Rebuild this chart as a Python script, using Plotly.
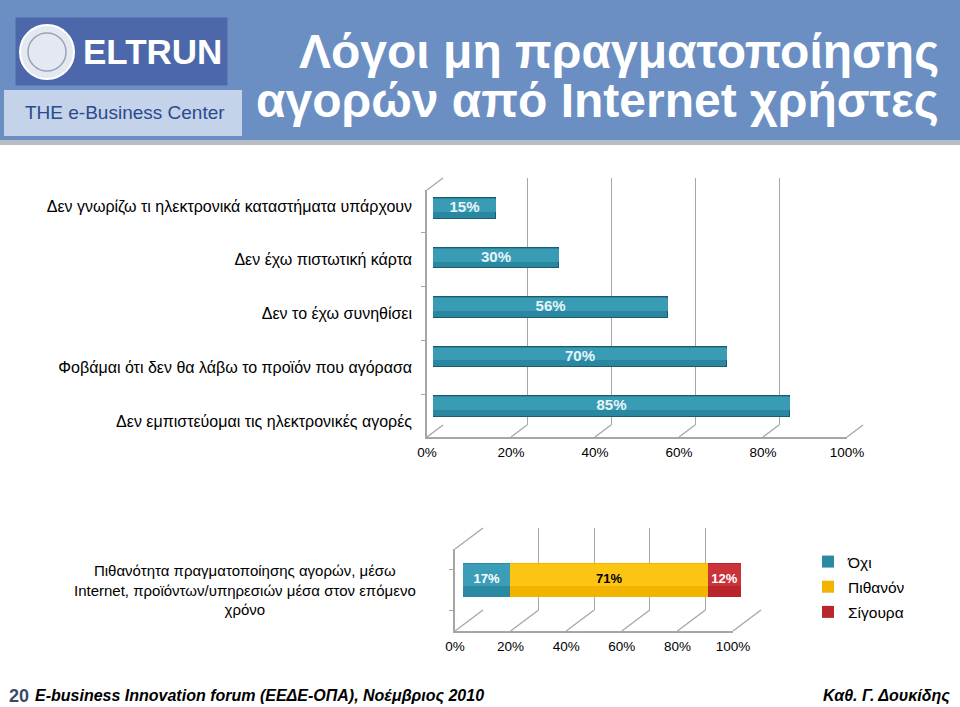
import plotly.graph_objects as go

# ---------------- data ----------------
reasons = [
    "Δεν γνωρίζω τι ηλεκτρονικά καταστήματα υπάρχουν",
    "Δεν έχω πιστωτική κάρτα",
    "Δεν το έχω συνηθίσει",
    "Φοβάμαι ότι δεν θα λάβω το προϊόν που αγόρασα",
    "Δεν εμπιστεύομαι τις ηλεκτρονικές αγορές",
]
reason_values = [15, 30, 56, 70, 85]

likelihood_category = ["Πιθανότητα πραγματοποίησης αγορών, μέσω<br>Internet, προϊόντων/υπηρεσιών μέσα στον επόμενο<br>χρόνο"]
likelihood_series = ["Όχι", "Πιθανόν", "Σίγουρα"]
likelihood_values = [17, 71, 12]
likelihood_colors = ["#2b8aa3", "#f3b400", "#b8252b"]
likelihood_light = ["#3c9db7", "#fcc514", "#cb333a"]
likelihood_text_colors = ["white", "black", "white"]

tick_vals = [0, 20, 40, 60, 80, 100]
tick_text = ["0%", "20%", "40%", "60%", "80%", "100%"]

title_lines = ["Λόγοι μη πραγματοποίησης", "αγορών από Internet χρήστες"]
footer_left = "E-business Innovation forum (ΕΕΔΕ-ΟΠΑ), Νοέμβριος 2010"
footer_right = "Καθ. Γ. Δουκίδης"
page_number = "20"

# ---------------- helpers ----------------
W, H = 960, 707
def px(x):
    return x / W
def py(y):
    return 1 - y / H
def xdom(a, b):
    return [px(a), px(b)]
def ydom(top, bottom):
    return [py(bottom), py(top)]

FONT = "Liberation Sans, Arial, sans-serif"
AXC = "#a6a6a6"
BAR_W = 0.42

fig = go.Figure()
def invisible(x, y, xa, ya):
    return go.Scatter(x=x, y=y, mode="markers", marker=dict(opacity=0), showlegend=False,
                      hoverinfo="skip", xaxis=xa, yaxis=ya)

# ================= top chart =================
fig.add_trace(invisible([0, 100], [0, 1], "x", "y"))                     # back wall grid
fig.add_trace(invisible([None] * len(reasons), reasons, "x2", "y2"))    # front labels
fig.add_trace(go.Bar(                                                     # cylinder body
    x=reason_values, y=reasons, orientation="h", width=BAR_W,
    marker=dict(color="#2a87a0", line=dict(color="#1c5b6c", width=1.2)),
    showlegend=False, hoverinfo="skip", xaxis="x3", yaxis="y3"))
fig.add_trace(go.Bar(                                                     # highlight
    x=reason_values, y=reasons, orientation="h", width=0.26, offset=-0.07,
    marker=dict(color="#3a9bb5", line=dict(width=0)),
    showlegend=False, hoverinfo="skip", xaxis="x4", yaxis="y4"))
fig.add_trace(go.Scatter(                                                 # value labels
    x=[v / 2 for v in reason_values], y=reasons, mode="text",
    text=[f"<b>{v}%</b>" for v in reason_values],
    textfont=dict(family=FONT, size=15, color="#e6f5f9"),
    showlegend=False, hoverinfo="skip", xaxis="x5", yaxis="y5"))

# ================= bottom chart =================
fig.add_trace(invisible([0, 100], [0, 1], "x6", "y6"))
fig.add_trace(invisible([None], likelihood_category, "x7", "y7"))
for name, val, col in zip(likelihood_series, likelihood_values, likelihood_colors):
    fig.add_trace(go.Bar(
        x=[val], y=likelihood_category, orientation="h", width=BAR_W, name=name, legendgroup=name,
        marker=dict(color=col, line=dict(width=0)), hoverinfo="skip", xaxis="x8", yaxis="y8"))
for name, val, col in zip(likelihood_series, likelihood_values, likelihood_light):
    fig.add_trace(go.Bar(
        x=[val], y=likelihood_category, orientation="h", width=0.26, offset=-0.07, name=name,
        legendgroup=name, showlegend=False,
        marker=dict(color=col, line=dict(width=0)), hoverinfo="skip", xaxis="x9", yaxis="y9"))
cum = 0
label_x = []
for val in likelihood_values:
    label_x.append(cum + val / 2)
    cum += val
fig.add_trace(go.Scatter(
    x=label_x, y=likelihood_category * len(likelihood_values), mode="text",
    text=[f"<b>{v}%</b>" for v in likelihood_values],
    textfont=dict(family=FONT, size=13, color=likelihood_text_colors),
    showlegend=False, hoverinfo="skip", xaxis="x10", yaxis="y10"))

rev_reasons = list(reversed(reasons))

def hidden_x(a, b, anchor):
    return dict(domain=xdom(a, b), range=[0, 100], visible=False, anchor=anchor,
                automargin=False, fixedrange=True)
def hidden_ycat(top, bottom, anchor, cats):
    return dict(domain=ydom(top, bottom), type="category", categoryorder="array", categoryarray=cats,
                range=[-0.5, len(cats) - 0.5], visible=False, anchor=anchor,
                automargin=False, fixedrange=True)

layout = dict(
    width=W, height=H, autosize=False,
    margin=dict(l=0, r=0, t=0, b=0, pad=0, autoexpand=False),
    paper_bgcolor="white", plot_bgcolor="rgba(0,0,0,0)",
    barmode="stack", bargap=0,
    font=dict(family=FONT, size=13, color="black"),
    # top grid
    xaxis=dict(domain=xdom(443, 863), range=[0, 100], tickvals=tick_vals, showticklabels=False,
               showgrid=True, gridcolor=AXC, gridwidth=1.3, zeroline=False, showline=False,
               automargin=False, fixedrange=True),
    yaxis=dict(domain=ydom(178, 425), range=[0, 1], visible=False, automargin=False, fixedrange=True),
    # top labels
    xaxis2=dict(domain=xdom(427, 847), range=[0, 100], tickvals=tick_vals, ticktext=tick_text,
                showgrid=False, zeroline=False, showline=True, linecolor=AXC, linewidth=1.5,
                ticks="", ticklabelstandoff=2, tickfont=dict(size=13.5), anchor="y2",
                automargin=False, fixedrange=True),
    yaxis2=dict(domain=ydom(190, 437), type="category", categoryorder="array", categoryarray=rev_reasons,
                showline=True, linecolor=AXC, linewidth=1.5, ticks="outside", tickson="boundaries",
                ticklen=4, tickcolor=AXC, showgrid=False, ticklabelstandoff=10,
                tickfont=dict(size=16), anchor="x2", automargin=False, fixedrange=True),
    xaxis3=hidden_x(433, 853, "y3"), yaxis3=hidden_ycat(184, 431, "x3", rev_reasons),
    xaxis4=hidden_x(433, 853, "y4"), yaxis4=hidden_ycat(184, 431, "x4", rev_reasons),
    xaxis5=hidden_x(433, 853, "y5"), yaxis5=hidden_ycat(184, 431, "x5", rev_reasons),
    # bottom grid
    xaxis6=dict(domain=xdom(483, 761), range=[0, 100], tickvals=tick_vals, showticklabels=False,
                showgrid=True, gridcolor=AXC, gridwidth=1.3, zeroline=False, showline=False,
                anchor="y6", automargin=False, fixedrange=True),
    yaxis6=dict(domain=ydom(528, 610), range=[0, 1], visible=False, anchor="x6",
                automargin=False, fixedrange=True),
    # bottom labels
    xaxis7=dict(domain=xdom(455, 733), range=[0, 100], tickvals=tick_vals, ticktext=tick_text,
                showgrid=False, zeroline=False, showline=True, linecolor=AXC, linewidth=1.5,
                ticks="", ticklabelstandoff=2, tickfont=dict(size=13.5), anchor="y7",
                automargin=False, fixedrange=True),
    yaxis7=dict(domain=ydom(549, 631), type="category", showline=True, linecolor=AXC, linewidth=1.5,
                ticks="outside", tickson="boundaries", ticklen=4, tickcolor=AXC, showgrid=False,
                showticklabels=False, anchor="x7", automargin=False, fixedrange=True),
    xaxis8=hidden_x(463, 741, "y8"), yaxis8=hidden_ycat(539, 621, "x8", likelihood_category),
    xaxis9=hidden_x(463, 741, "y9"), yaxis9=hidden_ycat(539, 621, "x9", likelihood_category),
    xaxis10=hidden_x(463, 741, "y10"), yaxis10=hidden_ycat(539, 621, "x10", likelihood_category),
    legend=dict(x=px(808), y=py(545), xanchor="left", yanchor="top", bgcolor="rgba(0,0,0,0)",
                font=dict(family=FONT, size=15.5, color="black"), traceorder="grouped",
                itemwidth=30, tracegroupgap=2),
)

shapes = []
# header band
shapes.append(dict(type="rect", xref="paper", yref="paper", x0=0, x1=1, y0=py(140), y1=1,
                   fillcolor="#6b8fc3", line=dict(width=0), layer="below"))
shapes.append(dict(type="rect", xref="paper", yref="paper", x0=0, x1=1, y0=py(145), y1=py(140),
                   fillcolor="#b9bec6", line=dict(width=0), layer="below"))
# logo glow + box
shapes.append(dict(type="rect", xref="paper", yref="paper", x0=px(4), x1=px(242), y0=py(136), y1=py(90),
                   fillcolor="#c4d3ea", line=dict(width=0), layer="below"))
shapes.append(dict(type="rect", xref="paper", yref="paper", x0=px(15), x1=px(228), y0=py(86), y1=py(17),
                   fillcolor="#4c68aa", line=dict(color="#6f8cc8", width=1), layer="below"))
shapes.append(dict(type="circle", xref="paper", yref="paper", x0=px(20), x1=px(74), y0=py(79), y1=py(25),
                   fillcolor="#e4e8f1", line=dict(color="white", width=2), layer="below"))
shapes.append(dict(type="circle", xref="paper", yref="paper", x0=px(28), x1=px(66), y0=py(71), y1=py(33),
                   fillcolor="rgba(0,0,0,0)", line=dict(color="#9aa3b6", width=1.5), layer="below"))

# 3D depth diagonals
def diag(x0, y0, x1, y1):
    return dict(type="line", xref="paper", yref="paper", x0=px(x0), y0=py(y0), x1=px(x1), y1=py(y1),
                line=dict(color=AXC, width=1.3))
for i in range(len(tick_vals)):
    shapes.append(diag(427 + 84 * i, 437, 443 + 84 * i, 425))
shapes.append(diag(427, 190, 443, 178))
for i in range(len(tick_vals)):
    shapes.append(diag(455 + 55.6 * i, 631, 483 + 55.6 * i, 610))
shapes.append(diag(455, 549, 483, 528))
layout["shapes"] = shapes

annotations = []
for i, line in enumerate(title_lines):
    annotations.append(dict(text=f"<b>{line}</b>", xref="paper", yref="paper", x=px(941), y=py(52 + 49 * i),
                            xanchor="right", yanchor="middle", showarrow=False,
                            font=dict(family=FONT, size=48, color="white")))
annotations.append(dict(text="<b>ELTRUN</b>", xref="paper", yref="paper", x=px(152), y=py(52),
                        xanchor="center", yanchor="middle", showarrow=False,
                        font=dict(family=FONT, size=35, color="white")))
annotations.append(dict(text="THE e-Business Center", xref="paper", yref="paper", x=px(125), y=py(113),
                        xanchor="center", yanchor="middle", showarrow=False,
                        font=dict(family=FONT, size=19, color="#2b4a8c")))
annotations.append(dict(text=likelihood_category[0], xref="paper", yref="paper", x=px(245), y=py(590),
                        xanchor="center", yanchor="middle", align="center", showarrow=False,
                        font=dict(family=FONT, size=15, color="black")))
annotations.append(dict(text=f"<b>{page_number}</b>", xref="paper", yref="paper", x=px(7), y=py(696),
                        xanchor="left", yanchor="middle", showarrow=False,
                        font=dict(family=FONT, size=18, color="#3b4a66")))
annotations.append(dict(text=f"<b><i>{footer_left}</i></b>", xref="paper", yref="paper", x=px(33), y=py(696),
                        xanchor="left", yanchor="middle", showarrow=False,
                        font=dict(family=FONT, size=16, color="black")))
annotations.append(dict(text=f"<b><i>{footer_right}</i></b>", xref="paper", yref="paper", x=px(952), y=py(696),
                        xanchor="right", yanchor="middle", showarrow=False,
                        font=dict(family=FONT, size=16, color="black")))
layout["annotations"] = annotations

fig.update_layout(**layout)
fig.write_html("out.html", config=dict(displayModeBar=False, responsive=False),
               post_script="document.body.style.margin='0px';document.body.style.overflow='hidden';")
